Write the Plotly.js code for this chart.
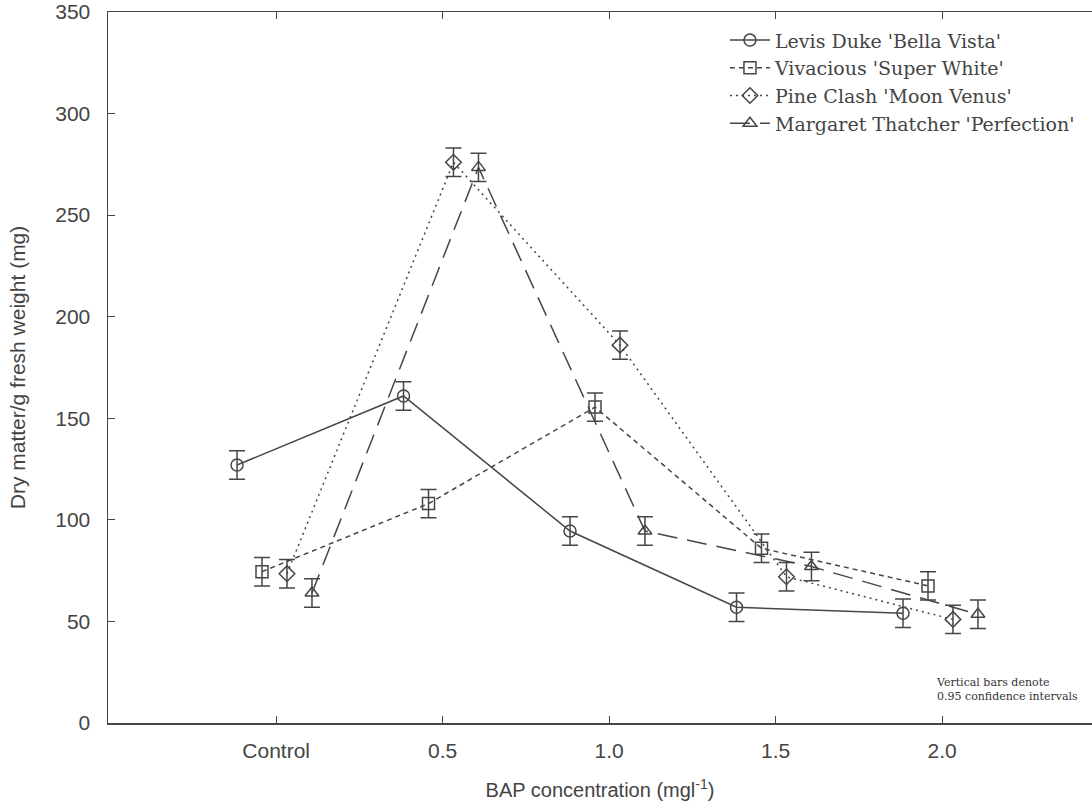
<!DOCTYPE html>
<html>
<head>
<meta charset="utf-8">
<script src="https://cdn.plot.ly/plotly-3.0.1.min.js"></script>
<style>html,body{margin:0;padding:0;background:#fff;}#chart{width:1092px;height:805px;}</style>
</head>
<body>
<div id="chart"></div>
<script>
const categories = ["Control", "0.5", "1.0", "1.5", "2.0"];
const seriesNames = ["Levis Duke 'Bella Vista'", "Vivacious 'Super White'", "Pine Clash 'Moon Venus'", "Margaret Thatcher 'Perfection'"];
const levisDuke = [127, 161, 94.5, 57, 54];
const vivacious = [74.5, 108, 155.5, 86, 67.5];
const pineClash = [73.5, 276, 186, 72, 51];
const margaret = [64, 273.5, 94.5, 77, 53.5];
const levisErr = [7, 7, 7, 7, 7];
const vivaciousErr = [7, 7, 7, 7, 7];
const pineErr = [7, 7, 7, 7, 7];
const margaretErr = [7, 7, 7, 7, 7];

const values = [levisDuke, vivacious, pineClash, margaret];
const errs = [levisErr, vivaciousErr, pineErr, margaretErr];
const offsets = [-0.235, -0.085, 0.065, 0.215];
const symbols = ["circle-open", "square-open", "diamond-open", "triangle-up-open"];
const dashes = ["solid", "5px,4px", "2px,4px", "20px,10px"];
const ink = "#464646";
const sans = "Liberation Sans, Arial, sans-serif";

const traces = values.map((v, i) => ({
  type: "scatter",
  mode: "lines+markers",
  name: seriesNames[i],
  x: categories.map((c, k) => k + offsets[i]),
  y: v,
  line: {color: ink, width: 1.5, dash: dashes[i]},
  marker: {symbol: symbols[i], size: 12, color: ink, line: {color: ink, width: 1.5}},
  error_y: {type: "data", array: errs[i], visible: true, color: ink, thickness: 1.5, width: 8}
}));

const layout = {
  width: 1092, height: 805,
  margin: {l: 108, r: 0, t: 12, b: 82},
  paper_bgcolor: "#fff", plot_bgcolor: "#fff",
  showlegend: true,
  legend: {
    x: 0.627, y: 0.987, xanchor: "left", yanchor: "top",
    bgcolor: "rgba(0,0,0,0)", borderwidth: 0,
    font: {family: "DejaVu Serif, serif", size: 19, color: "#444"},
    tracegroupgap: 0, itemwidth: 40
  },
  xaxis: {
    range: [-1.01, 4.9],
    tickvals: [0, 1, 2, 3, 4], ticktext: categories,
    ticks: "inside", ticklen: 7, tickcolor: ink, tickwidth: 1,
    showline: true, linecolor: ink, linewidth: 1.5, mirror: "ticks",
    showgrid: false, zeroline: false,
    ticklabelstandoff: 8,
    tickfont: {family: sans, size: 21, color: "#444"},
    title: {text: "BAP concentration (mgl<sup>-1</sup>)", font: {family: sans, size: 20, color: "#444"}, standoff: 22}
  },
  yaxis: {
    range: [0, 350], tickvals: [0, 50, 100, 150, 200, 250, 300, 350],
    ticks: "inside", ticklen: 7, tickcolor: ink, tickwidth: 1,
    showline: true, linecolor: ink, linewidth: 1.5,
    showgrid: false, zeroline: false,
    ticklabelstandoff: 12,
    tickfont: {family: sans, size: 21, color: "#444"},
    title: {text: "Dry matter/g fresh weight (mg)", font: {family: sans, size: 21, color: "#444"}, standoff: 24}
  },
  annotations: [{
    xref: "paper", yref: "paper", x: 0.839, y: 0.025, xanchor: "left", yanchor: "bottom",
    text: "Vertical bars denote<br>0.95 confidence intervals", showarrow: false, align: "left",
    font: {family: "DejaVu Serif, serif", size: 11, color: "#333"}
  }]
};

Plotly.newPlot("chart", traces, layout, {displayModeBar: false, staticPlot: true});
</script>
</body>
</html>
